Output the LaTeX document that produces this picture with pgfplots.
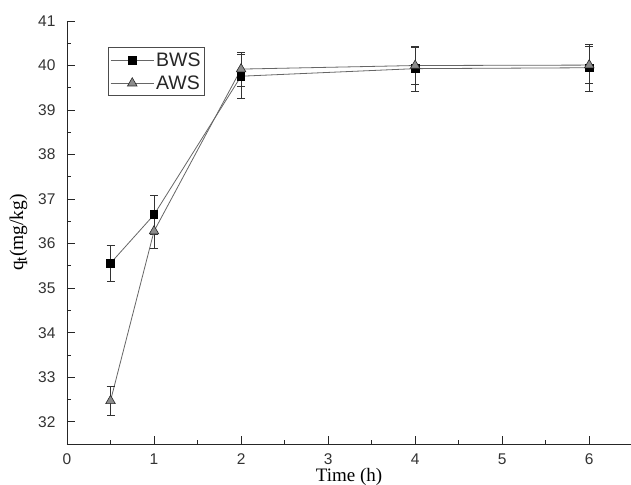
\documentclass[border=0pt]{standalone}
\usepackage{fontspec}
\setmainfont{Liberation Sans}
\newfontfamily\serifTNR{Liberation Serif}
\usepackage{pgfplots}
\pgfplotsset{compat=1.18}
\begin{document}
\begin{tikzpicture}
\begin{axis}[
  name=ax,
  at={(0,0)}, anchor=south west,
  scale only axis,
  width=564bp, height=423bp,
  xmin=0, xmax=6.48, ymin=31.5, ymax=41,
  axis lines=left,
  axis line style={-, line width=0.9bp, black!85},
  tick align=inside,
  tick style={line width=0.8bp, black!85},
  major tick length=8bp,
  minor tick length=4bp,
  xtick={0,1,2,3,4,5,6},
  ytick={32,33,34,35,36,37,38,39,40,41},
  minor xtick={0.5,1.5,2.5,3.5,4.5,5.5},
  minor ytick={31.5,32.5,33.5,34.5,35.5,36.5,37.5,38.5,39.5,40.5},
  /pgf/number format/assume math mode=true,
  ticklabel style={font=\fontsize{15.5bp}{17bp}\selectfont, text=black!80},
  xticklabel style={yshift=-6bp},
  yticklabel style={xshift=-8bp},
  xlabel={Time (h)},
  ylabel={q$_\mathrm{t}$(mg/kg)},
  xlabel style={font=\serifTNR\fontsize{19bp}{21bp}\selectfont, yshift=3bp},
  ylabel style={font=\serifTNR\fontsize{19.5bp}{21bp}\selectfont, yshift=4bp},
  legend style={at={(0.0727,0.938)}, anchor=north west, draw=black!70, line width=0.7bp,
    font=\fontsize{19.5bp}{21bp}\selectfont, text=black!85, inner xsep=2bp, inner ysep=3bp,
    row sep=4bp},
  legend cell align=left,
  legend image code/.code={
    \draw[#1, mark repeat=2, mark phase=2] plot coordinates {(0bp,0bp) (21.5bp,0bp) (43bp,0bp)};
  },
  clip=false,
]
\addplot[color=black!60, line width=0.8bp, mark=square*,
  mark options={fill=black, draw=black, mark size=3.8bp, solid},
  error bars/.cd, y dir=both, y explicit,
  error bar style={line width=0.6bp, black!80},
  error mark options={rotate=90, mark size=4bp, line width=0.6bp, black!80}]
coordinates {
  (0.5,35.56) +- (0,0.41)
  (1,36.65) +- (0,0.43)
  (2,39.76) +- (0,0.50)
  (4,39.93) +- (0,0.50)
  (6,39.95) +- (0,0.52)
};
\addlegendentry{BWS}
\addplot[color=black!60, line width=0.8bp, mark=triangle*,
  mark options={fill=black!45, draw=black!85, mark size=5.5bp, solid, line width=0.6bp},
  error bars/.cd, y dir=both, y explicit,
  error bar style={line width=0.6bp, black!80},
  error mark options={rotate=90, mark size=4bp, line width=0.6bp, black!80}]
coordinates {
  (0.5,32.47) +- (0,0.32)
  (1,36.28) +- (0,0.38)
  (2,39.92) +- (0,0.38)
  (4,40.00) +- (0,0.42)
  (6,40.01) +- (0,0.42)
};
\addlegendentry{AWS}
\end{axis}
\pgfresetboundingbox
\path[use as bounding box] ([shift={(-67bp,-41bp)}]ax.south west) rectangle ([shift={(0bp,21bp)}]ax.north east);
\end{tikzpicture}
\end{document}
